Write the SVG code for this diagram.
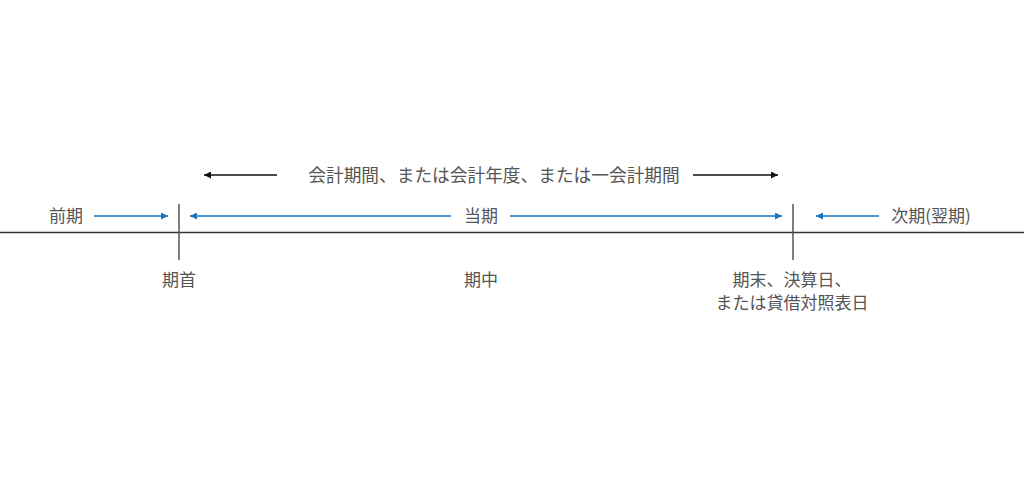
<svg xmlns="http://www.w3.org/2000/svg" width="1024" height="498" viewBox="0 0 1024 498">
<style>
text{font-family:"Noto Sans CJK JP","Noto Sans",sans-serif;font-size:17px;fill:#555;text-anchor:middle}
.blue{stroke:#1a73c0;stroke-width:1.5;fill:none}
.blk{stroke:#111;stroke-width:1.5;fill:none}
.tick{stroke:#555;stroke-width:1.5}
</style>
<defs>
<marker id="ab" viewBox="0 0 10 10" refX="10" refY="5" markerWidth="7" markerHeight="7" orient="auto" markerUnits="userSpaceOnUse"><path d="M0,0L10,5L0,10z" fill="#1a73c0"/></marker>
<marker id="ak" viewBox="0 0 10 10" refX="10" refY="5" markerWidth="7" markerHeight="7" orient="auto" markerUnits="userSpaceOnUse"><path d="M0,0L10,5L0,10z" fill="#111"/></marker>
</defs>
<rect width="1024" height="498" fill="#fff"/>
<g id="timeline">
<line x1="0" y1="232.5" x2="1024" y2="232.5" stroke="#333" stroke-width="1.5"/>
<line class="tick" x1="179" y1="204" x2="179" y2="260"/>
<line class="tick" x1="793" y1="204" x2="793" y2="260"/>
</g>
<g id="connectors">
<line class="blk" x1="277" y1="175" x2="204" y2="175" marker-end="url(#ak)"/>
<line class="blk" x1="693" y1="175" x2="778" y2="175" marker-end="url(#ak)"/>
<line class="blue" x1="94" y1="216" x2="168" y2="216" marker-end="url(#ab)"/>
<line class="blue" x1="451" y1="216" x2="190" y2="216" marker-end="url(#ab)"/>
<line class="blue" x1="510" y1="216" x2="782" y2="216" marker-end="url(#ab)"/>
<line class="blue" x1="879" y1="216" x2="816" y2="216" marker-end="url(#ab)"/>
</g>
<g id="period"><text x="494" y="182" style="font-size:17.7px">会計期間、または会計年度、または一会計期間</text></g>
<g id="prev"><text x="66" y="222">前期</text></g>
<g id="current"><text x="481" y="222">当期</text></g>
<g id="next"><text x="931" y="222">次期(翌期)</text></g>
<g id="start"><text x="179" y="286">期首</text></g>
<g id="mid"><text x="481" y="286">期中</text></g>
<g id="end"><text x="792" y="286">期末、決算日、</text><text x="792" y="309">または貸借対照表日</text></g>
</svg>
